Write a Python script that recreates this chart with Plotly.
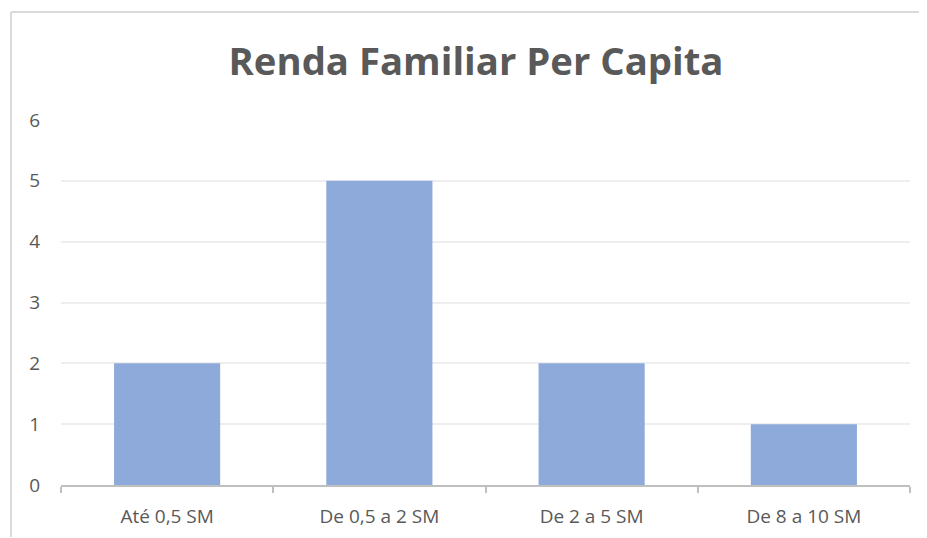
import plotly.graph_objects as go

categories = ["Até 0,5 SM", "De 0,5 a 2 SM", "De 2 a 5 SM", "De 8 a 10 SM"]
values = [2, 5, 2, 1]
title_text = "Renda Familiar Per Capita"

OFF = 8  # page body margin
W, H = 927 - OFF, 538 - OFF
L, T = 61 - OFF, 120 - OFF
R = W - (910 - OFF)
B = H - (485 - OFF)
pw, ph = W - L - R, H - T - B

fig = go.Figure(go.Bar(x=categories, y=values, marker_color="#8EAADB",
                       marker_line_width=0, width=0.5))

def px_x(x):
    return (x - OFF - L) / pw

def px_y(y):
    return 1 - (y - OFF - T) / ph

fig.update_layout(
    width=W, height=H,
    margin=dict(l=L, r=R, t=T, b=B),
    paper_bgcolor="white", plot_bgcolor="white",
    font=dict(family="Open Sans, Noto Sans, sans-serif", color="#595959", size=19),
    title=dict(text="<b>" + title_text + "</b>", x=(476 - OFF) / W, xanchor="center",
               y=1 - (62 - OFF) / H, yanchor="middle",
               font=dict(size=38.3, color="#595959", family="Open Sans, sans-serif")),
    showlegend=False,
    shapes=[
        dict(type="line", xref="paper", yref="paper", x0=px_x(11), x1=px_x(926),
             y0=px_y(12), y1=px_y(12), line=dict(color="#D9D9D9", width=2)),
        dict(type="line", xref="paper", yref="paper", x0=px_x(11), x1=px_x(11),
             y0=px_y(12), y1=px_y(537), line=dict(color="#D9D9D9", width=2)),
    ],
)
fig.update_xaxes(showline=True, linecolor="#BFBFBF", linewidth=2,
                 ticks="outside", tickson="boundaries", ticklen=6, tickcolor="#BFBFBF",
                 tickwidth=2, showgrid=False, ticklabelstandoff=13, automargin=False,
                 tickfont=dict(size=19, color="#595959"))
fig.update_yaxes(range=[0, 6], dtick=1, showline=False, showgrid=True,
                 gridcolor="#EEEEEE", gridwidth=1.5, zeroline=False, automargin=False,
                 ticklabelstandoff=20, tickfont=dict(size=19, color="#595959"))

fig.write_html("out.html", config={"displayModeBar": False},
               post_script="document.documentElement.style.overflow='hidden';"
                           "document.body.style.overflow='hidden';")
